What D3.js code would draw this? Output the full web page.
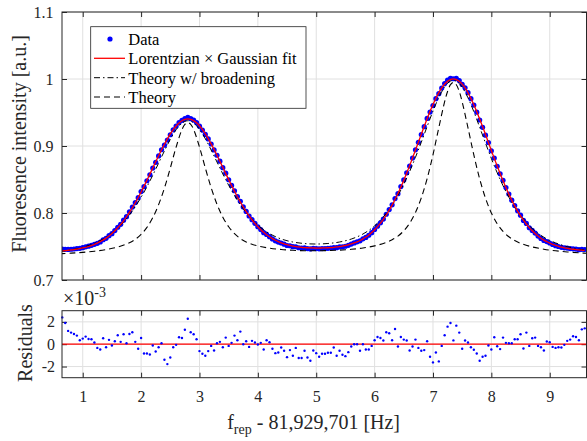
<!DOCTYPE html>
<html>
<head>
<meta charset="utf-8">
<script src="https://cdn.jsdelivr.net/npm/d3@7"></script>
<style>
  body { margin: 0; background: #fff; }
  svg { font-family: "Liberation Serif", "Times New Roman", serif; }
</style>
</head>
<body>
<svg id="chart" width="587" height="441"></svg>
<script>
// repetition-rate offset of each measured point [Hz]
const freq = [
  0.65,0.7,0.75,0.8,0.85,0.9,0.95,1,1.05,1.1,
  1.15,1.2,1.25,1.3,1.35,1.4,1.45,1.5,1.55,1.6,
  1.65,1.7,1.75,1.8,1.85,1.9,1.95,2,2.05,2.1,
  2.15,2.2,2.25,2.3,2.35,2.4,2.45,2.5,2.55,2.6,
  2.65,2.7,2.75,2.8,2.85,2.9,2.95,3,3.05,3.1,
  3.15,3.2,3.25,3.3,3.35,3.4,3.45,3.5,3.55,3.6,
  3.65,3.7,3.75,3.8,3.85,3.9,3.95,4,4.05,4.1,
  4.15,4.2,4.25,4.3,4.35,4.4,4.45,4.5,4.55,4.6,
  4.65,4.7,4.75,4.8,4.85,4.9,4.95,5,5.05,5.1,
  5.15,5.2,5.25,5.3,5.35,5.4,5.45,5.5,5.55,5.6,
  5.65,5.7,5.75,5.8,5.85,5.9,5.95,6,6.05,6.1,
  6.15,6.2,6.25,6.3,6.35,6.4,6.45,6.5,6.55,6.6,
  6.65,6.7,6.75,6.8,6.85,6.9,6.95,7,7.05,7.1,
  7.15,7.2,7.25,7.3,7.35,7.4,7.45,7.5,7.55,7.6,
  7.65,7.7,7.75,7.8,7.85,7.9,7.95,8,8.05,8.1,
  8.15,8.2,8.25,8.3,8.35,8.4,8.45,8.5,8.55,8.6,
  8.65,8.7,8.75,8.8,8.85,8.9,8.95,9,9.05,9.1,
  9.15,9.2,9.25,9.3,9.35,9.4,9.45,9.5,9.55,9.6
];

// measured fluorescence (blue dots)
const fluor = [
  0.7460,0.7458,0.7456,0.7459,0.7463,0.7469,0.7473,0.7483,0.7495,0.7505,
  0.7518,0.7533,0.7547,0.7567,0.7601,0.7622,0.7661,0.7692,0.7737,0.7787,
  0.7831,0.7893,0.7945,0.8018,0.8089,0.8155,0.8228,0.8320,0.8393,0.8481,
  0.8571,0.8671,0.8757,0.8852,0.8944,0.9013,0.9089,0.9168,0.9241,0.9298,
  0.9350,0.9383,0.9410,0.9427,0.9408,0.9387,0.9350,0.9296,0.9238,0.9173,
  0.9105,0.9030,0.8942,0.8862,0.8773,0.8677,0.8594,0.8496,0.8411,0.8332,
  0.8246,0.8175,0.8090,0.8024,0.7955,0.7901,0.7846,0.7795,0.7752,0.7706,
  0.7680,0.7647,0.7613,0.7585,0.7566,0.7552,0.7534,0.7515,0.7511,0.7497,
  0.7496,0.7481,0.7476,0.7478,0.7469,0.7464,0.7472,0.7469,0.7466,0.7469,
  0.7470,0.7473,0.7476,0.7485,0.7483,0.7493,0.7496,0.7504,0.7518,0.7536,
  0.7553,0.7570,0.7584,0.7614,0.7636,0.7668,0.7707,0.7754,0.7803,0.7854,
  0.7909,0.7981,0.8051,0.8122,0.8215,0.8289,0.8394,0.8493,0.8599,0.8701,
  0.8820,0.8943,0.9055,0.9170,0.9289,0.9411,0.9506,0.9603,0.9706,0.9781,
  0.9865,0.9933,0.9983,1.0011,1.0004,1.0009,0.9976,0.9919,0.9869,0.9796,
  0.9707,0.9611,0.9505,0.9388,0.9278,0.9161,0.9051,0.8928,0.8821,0.8698,
  0.8584,0.8487,0.8379,0.8283,0.8192,0.8111,0.8033,0.7967,0.7889,0.7845,
  0.7780,0.7740,0.7700,0.7655,0.7621,0.7590,0.7574,0.7552,0.7530,0.7513,
  0.7500,0.7488,0.7480,0.7476,0.7469,0.7466,0.7461,0.7453,0.7458,0.7455
];

// Lorentzian x Gaussian fit (red line)
const fitVals = [
  0.7436,0.7439,0.7444,0.7449,0.7454,0.7461,0.7469,0.7478,0.7488,0.7500,
  0.7514,0.7531,0.7550,0.7572,0.7596,0.7625,0.7657,0.7693,0.7734,0.7779,
  0.7829,0.7884,0.7944,0.8009,0.8078,0.8153,0.8232,0.8314,0.8401,0.8489,
  0.8580,0.8672,0.8764,0.8855,0.8943,0.9027,0.9107,0.9180,0.9244,0.9299,
  0.9344,0.9377,0.9397,0.9404,0.9397,0.9378,0.9346,0.9302,0.9247,0.9183,
  0.9111,0.9032,0.8948,0.8861,0.8771,0.8680,0.8588,0.8498,0.8410,0.8324,
  0.8242,0.8164,0.8090,0.8021,0.7957,0.7898,0.7844,0.7795,0.7751,0.7711,
  0.7676,0.7645,0.7617,0.7593,0.7573,0.7555,0.7540,0.7527,0.7516,0.7507,
  0.7499,0.7493,0.7488,0.7484,0.7481,0.7479,0.7478,0.7477,0.7477,0.7478,
  0.7479,0.7481,0.7484,0.7488,0.7493,0.7499,0.7506,0.7515,0.7525,0.7538,
  0.7553,0.7570,0.7590,0.7614,0.7641,0.7673,0.7709,0.7750,0.7796,0.7848,
  0.7906,0.7970,0.8041,0.8118,0.8201,0.8291,0.8387,0.8489,0.8596,0.8707,
  0.8822,0.8939,0.9058,0.9176,0.9294,0.9408,0.9517,0.9619,0.9713,0.9796,
  0.9867,0.9925,0.9967,0.9992,1.0001,0.9992,0.9966,0.9923,0.9866,0.9794,
  0.9710,0.9616,0.9513,0.9403,0.9289,0.9171,0.9052,0.8933,0.8815,0.8700,
  0.8588,0.8481,0.8378,0.8282,0.8191,0.8107,0.8029,0.7958,0.7893,0.7835,
  0.7782,0.7735,0.7694,0.7657,0.7624,0.7596,0.7572,0.7550,0.7532,0.7516,
  0.7503,0.7491,0.7481,0.7473,0.7465,0.7459,0.7454,0.7449,0.7445,0.7441
];

// residuals, in units of 1e-3
const resid = [
  2.4,1.9,1.19,1.04,0.92,0.77,0.36,0.5,0.68,0.47,
  0.44,0.15,-0.33,-0.47,0.53,-0.27,0.39,-0.12,0.27,0.8,
  0.21,0.89,0.09,0.92,1.07,0.21,-0.41,0.56,-0.83,-0.83,
  -0.92,-0.12,-0.65,-0.27,0.09,-1.39,-1.78,-1.19,-0.27,-0.06,
  0.62,0.56,1.3,2.28,1.07,0.89,0.44,-0.62,-0.86,-1.04,
  -0.62,-0.15,-0.56,0.09,0.21,-0.27,0.59,-0.15,0.12,0.77,
  0.36,1.13,0,0.27,-0.24,0.3,0.15,-0.03,0.12,-0.47,
  0.36,0.18,-0.41,-0.8,-0.74,-0.3,-0.59,-1.16,-0.53,-1.04,
  -0.33,-1.24,-1.24,-0.59,-1.19,-1.48,-0.56,-0.8,-1.13,-0.86,
  -0.86,-0.77,-0.77,-0.3,-1.04,-0.59,-0.95,-1.07,-0.71,-0.21,
  0,0,-0.59,0,-0.47,-0.47,-0.15,0.36,0.65,0.56,
  0.33,1.07,0.98,0.36,1.36,-0.21,0.65,0.41,0.33,-0.56,
  -0.21,0.41,-0.33,-0.59,-0.53,0.27,-1.13,-1.63,-0.74,-1.54,
  -0.15,0.8,1.57,1.9,0.34,1.66,1.04,-0.41,0.33,0.15,
  -0.27,-0.5,-0.83,-1.48,-1.13,-1.04,-0.12,-0.47,0.62,-0.18,
  -0.44,0.59,0.12,0.09,0.09,0.44,0.44,0.89,-0.39,1.04,
  -0.15,0.53,0.59,-0.15,-0.27,-0.56,0.24,0.18,-0.24,-0.33,
  -0.27,-0.3,-0.06,0.3,0.41,0.71,0.65,0.36,1.33,1.42
];

// theory curves, sampled more densely near the two peaks
const theoryX = [
  0.6,0.8,1.0,1.2,1.4,1.6,1.8,1.9,2.0,2.1,2.2,2.3,2.4,2.5,2.6,2.7,2.75,2.8,2.85,2.9,
  3.0,3.1,3.2,3.3,3.4,3.5,3.6,3.7,3.8,4.0,4.2,4.4,4.6,4.8,5.0,5.2,5.4,5.6,5.8,6.0,
  6.2,6.3,6.4,6.5,6.6,6.7,6.8,6.9,7.0,7.1,7.2,7.25,7.3,7.35,7.4,7.45,7.5,7.6,7.7,7.8,
  7.9,8.0,8.1,8.2,8.3,8.4,8.5,8.7,8.9,9.1,9.3,9.5,9.7
];
const theoryBroad = [
  0.7423,0.7450,0.7489,0.7548,0.7638,0.7775,0.7971,0.8094,0.8235,0.8392,0.8564,0.8745,0.8927,0.9099,0.9243,0.9341,0.9367,0.9377,0.9369,0.9344,
  0.9250,0.9109,0.8940,0.8761,0.8583,0.8415,0.8262,0.8125,0.8005,0.7818,0.7692,0.7612,0.7567,0.7544,0.7537,0.7545,0.7567,0.7611,0.7686,0.7808,
  0.7994,0.8117,0.8262,0.8430,0.8620,0.8831,0.9057,0.9291,0.9521,0.9725,0.9882,0.9935,0.9968,0.9978,0.9967,0.9933,0.9879,0.9719,0.9512,0.9280,
  0.9043,0.8814,0.8601,0.8408,0.8237,0.8089,0.7962,0.7768,0.7638,0.7554,0.7498,0.7461,0.7434
];
const theoryBare = [
  0.7391,0.7401,0.7413,0.7430,0.7454,0.7491,0.7555,0.7607,0.7680,0.7785,0.7930,0.8125,0.8373,0.8670,0.8984,0.9245,0.9322,0.9350,0.9323,0.9246,
  0.8986,0.8673,0.8378,0.8131,0.7938,0.7794,0.7691,0.7618,0.7568,0.7508,0.7475,0.7455,0.7443,0.7437,0.7436,0.7439,0.7446,0.7458,0.7478,0.7509,
  0.7560,0.7600,0.7655,0.7734,0.7847,0.8007,0.8226,0.8513,0.8869,0.9273,0.9661,0.9814,0.9915,0.9950,0.9914,0.9813,0.9660,0.9271,0.8866,0.8509,
  0.8221,0.8001,0.7840,0.7725,0.7645,0.7589,0.7548,0.7494,0.7460,0.7436,0.7419,0.7406,0.7396
];

const xTicks = [1, 2, 3, 4, 5, 6, 7, 8, 9];
const yTicks = [0.7, 0.8, 0.9, 1, 1.1];
const resTicks = [-2, 0, 2];
const legendLabels = ["Data", "Lorentzian \u00d7 Gaussian fit", "Theory w/ broadening", "Theory"];

const svg = d3.select("#chart");
const FONT = "'Liberation Serif', 'Times New Roman', serif";
const axisColor = "#262626";
const gridColor = "#e0e0e0";

const plotL = 62, plotR = 586.5;
const topT = 12, topB = 280;
const resT = 310.7, resB = 377.7;

const x = d3.scaleLinear().domain([0.645, 9.63]).range([plotL, plotR]);
const y = d3.scaleLinear().domain([0.7, 1.1]).range([topB, topT]);
const yRes = d3.scaleLinear().domain([-3, 3]).range([resB, resT]);

svg.append("defs").append("clipPath").attr("id", "clipTop")
  .append("rect").attr("x", plotL).attr("y", topT)
  .attr("width", plotR - plotL).attr("height", topB - topT);

// grid + ticks for a panel
function drawFrame(yScale, yVals, top, bottom, xLabels, padY) {
  const g = svg.append("g");
  g.selectAll(".gx").data(xTicks).join("line")
    .attr("x1", d => x(d)).attr("x2", d => x(d))
    .attr("y1", top).attr("y2", bottom)
    .attr("stroke", gridColor);
  g.selectAll(".gy").data(yVals).join("line")
    .attr("x1", plotL).attr("x2", plotR)
    .attr("y1", d => yScale(d)).attr("y2", d => yScale(d))
    .attr("stroke", gridColor);

  const styleAxis = s => {
    s.attr("font-family", FONT).attr("font-size", 16);
    s.select(".domain").remove();
    s.selectAll(".tick line").attr("stroke", axisColor);
    s.selectAll(".tick text").attr("fill", axisColor);
  };

  g.append("g").attr("transform", `translate(0,${bottom})`)
    .call(d3.axisBottom(x).tickValues(xTicks).tickSize(-5).tickSizeOuter(0)
      .tickPadding(12.6).tickFormat(xLabels ? d3.format("d") : ""))
    .call(styleAxis);
  g.append("g").attr("transform", `translate(0,${top})`)
    .call(d3.axisTop(x).tickValues(xTicks).tickSize(-5).tickSizeOuter(0).tickFormat(""))
    .call(styleAxis);
  g.append("g").attr("transform", `translate(${plotL},0)`)
    .call(d3.axisLeft(yScale).tickValues(yVals).tickSize(-5).tickSizeOuter(0)
      .tickPadding(padY).tickFormat(d => String(d)))
    .call(styleAxis);
  g.append("g").attr("transform", `translate(${plotR},0)`)
    .call(d3.axisRight(yScale).tickValues(yVals).tickSize(-5).tickSizeOuter(0).tickFormat(""))
    .call(styleAxis);

  return g;
}

// ---- top panel ----
drawFrame(y, yTicks, topT, topB, false, 8.5);

const mainG = svg.append("g").attr("clip-path", "url(#clipTop)");
const points = freq.map((f, i) => ({ f, v: fluor[i], fit: fitVals[i], r: resid[i] }));

mainG.selectAll(".dot").data(points).join("circle")
  .attr("cx", d => x(d.f)).attr("cy", d => y(d.v))
  .attr("r", 2.6).attr("fill", "#0000ff");

const theory = theoryX.map((t, i) => ({ t, broad: theoryBroad[i], bare: theoryBare[i] }));

mainG.append("path").datum(theory)
  .attr("fill", "none").attr("stroke", "#000").attr("stroke-width", 1.1)
  .attr("stroke-dasharray", "6,4")
  .attr("d", d3.line().x(d => x(d.t)).y(d => y(d.bare)).curve(d3.curveCatmullRom));

mainG.append("path").datum(theory)
  .attr("fill", "none").attr("stroke", "#000").attr("stroke-width", 1)
  .attr("stroke-dasharray", "6,3,1.5,3")
  .attr("d", d3.line().x(d => x(d.t)).y(d => y(d.broad)).curve(d3.curveCatmullRom));

mainG.append("path").datum(points)
  .attr("fill", "none").attr("stroke", "#ff0000").attr("stroke-width", 1.3)
  .attr("d", d3.line().x(d => x(d.f)).y(d => y(d.fit)).curve(d3.curveCatmullRom));

svg.append("rect").attr("x", plotL).attr("y", topT)
  .attr("width", plotR - plotL).attr("height", topB - topT)
  .attr("fill", "none").attr("stroke", axisColor).attr("stroke-width", 1);

// legend
const lg = svg.append("g").attr("font-family", FONT).attr("font-size", 16.5);
lg.append("rect").attr("x", 90.7).attr("y", 26.7).attr("width", 215.3).attr("height", 81.6)
  .attr("fill", "#fff").attr("stroke", axisColor).attr("stroke-width", 0.8);
const rowY = [39, 58.3, 77.7, 97];
lg.append("circle").attr("cx", 110).attr("cy", rowY[0]).attr("r", 2.6).attr("fill", "#0000ff");
lg.append("line").attr("x1", 94).attr("x2", 125).attr("y1", rowY[1]).attr("y2", rowY[1])
  .attr("stroke", "#ff0000").attr("stroke-width", 1.3);
lg.append("line").attr("x1", 94).attr("x2", 125).attr("y1", rowY[2]).attr("y2", rowY[2])
  .attr("stroke", "#000").attr("stroke-dasharray", "6,3,1.5,3");
lg.append("line").attr("x1", 94).attr("x2", 125).attr("y1", rowY[3]).attr("y2", rowY[3])
  .attr("stroke", "#000").attr("stroke-width", 1.1).attr("stroke-dasharray", "6,4");
lg.selectAll(".lt").data(legendLabels).join("text")
  .attr("x", 128.3).attr("y", (d, i) => rowY[i] + 6)
  .attr("fill", "#000").text(d => d);

// y label top
svg.append("text").attr("transform", "translate(25.5,144) rotate(-90)")
  .attr("text-anchor", "middle").attr("font-family", FONT).attr("font-size", 20)
  .attr("fill", axisColor).text("Fluoresence intensity [a.u.]");

// ---- residual panel ----
drawFrame(yRes, resTicks, resT, resB, true, 7);

svg.append("line")
  .attr("x1", plotL).attr("x2", plotR)
  .attr("y1", yRes(0)).attr("y2", yRes(0))
  .attr("stroke", "#ff0000").attr("stroke-width", 1.2);

svg.append("g").selectAll("circle").data(points).join("circle")
  .attr("cx", d => x(d.f)).attr("cy", d => yRes(d.r))
  .attr("r", 1.2).attr("fill", "#0000ff");

svg.append("rect").attr("x", plotL).attr("y", resT)
  .attr("width", plotR - plotL).attr("height", resB - resT)
  .attr("fill", "none").attr("stroke", axisColor).attr("stroke-width", 1);

const expo = svg.append("text").attr("x", 63).attr("y", 305)
  .attr("font-family", FONT).attr("font-size", 20).attr("fill", axisColor);
expo.append("tspan").text("\u00d710");
expo.append("tspan").attr("dy", -8).attr("font-size", 14).text("-3");

svg.append("text").attr("transform", "translate(31.5,343) rotate(-90)")
  .attr("text-anchor", "middle").attr("font-family", FONT).attr("font-size", 20)
  .attr("fill", axisColor).text("Residuals");

// x label
const xl = svg.append("text").attr("x", 313.6).attr("y", 429)
  .attr("text-anchor", "middle").attr("font-family", FONT).attr("font-size", 20)
  .attr("fill", axisColor);
xl.append("tspan").text("f");
xl.append("tspan").attr("dy", 5).attr("font-size", 14).text("rep");
xl.append("tspan").attr("dy", -5).text(" - 81,929,701 [Hz]");
</script>
</body>
</html>
